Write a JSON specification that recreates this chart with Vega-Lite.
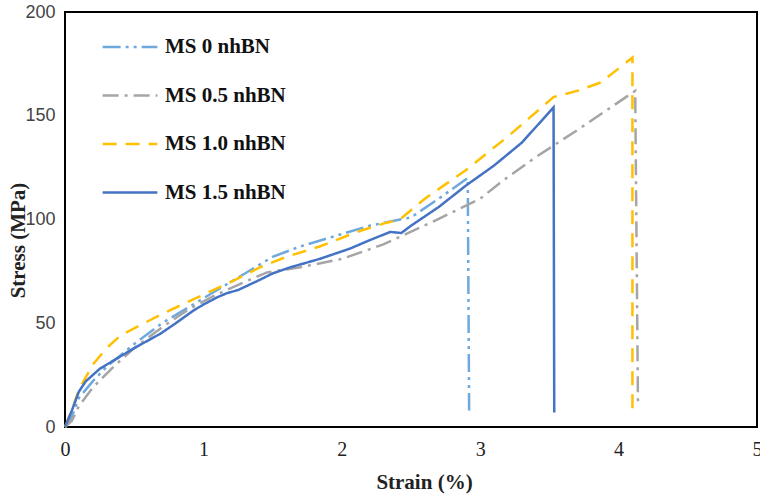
{
  "$schema": "https://vega.github.io/schema/vega-lite/v6.json",
  "width": 692,
  "height": 415,
  "autosize": "none",
  "padding": {"left": 65, "top": 12, "right": 3, "bottom": 68},
  "background": "white",
  "config": {
    "view": {"stroke": "black", "strokeWidth": 2},
    "axis": {"grid": false, "domain": false, "ticks": false}
  },
  "data": {"values": [
    {"s":"MS 0 nhBN","i":0,"x":0,"y":0},
    {"s":"MS 0 nhBN","i":1,"x":0.05,"y":5},
    {"s":"MS 0 nhBN","i":2,"x":0.1,"y":14},
    {"s":"MS 0 nhBN","i":3,"x":0.2,"y":22},
    {"s":"MS 0 nhBN","i":4,"x":0.3,"y":29},
    {"s":"MS 0 nhBN","i":5,"x":0.5,"y":40},
    {"s":"MS 0 nhBN","i":6,"x":0.7,"y":50},
    {"s":"MS 0 nhBN","i":7,"x":0.9,"y":58},
    {"s":"MS 0 nhBN","i":8,"x":1.1,"y":66},
    {"s":"MS 0 nhBN","i":9,"x":1.3,"y":74},
    {"s":"MS 0 nhBN","i":10,"x":1.5,"y":82},
    {"s":"MS 0 nhBN","i":11,"x":1.7,"y":87},
    {"s":"MS 0 nhBN","i":12,"x":2.0,"y":93},
    {"s":"MS 0 nhBN","i":13,"x":2.2,"y":97},
    {"s":"MS 0 nhBN","i":14,"x":2.35,"y":99},
    {"s":"MS 0 nhBN","i":15,"x":2.5,"y":101},
    {"s":"MS 0 nhBN","i":16,"x":2.7,"y":110},
    {"s":"MS 0 nhBN","i":17,"x":2.91,"y":120},
    {"s":"MS 0 nhBN","i":18,"x":2.92,"y":8},
    {"s":"MS 0.5 nhBN","i":0,"x":0,"y":0},
    {"s":"MS 0.5 nhBN","i":1,"x":0.05,"y":3},
    {"s":"MS 0.5 nhBN","i":2,"x":0.1,"y":10},
    {"s":"MS 0.5 nhBN","i":3,"x":0.2,"y":19},
    {"s":"MS 0.5 nhBN","i":4,"x":0.35,"y":29},
    {"s":"MS 0.5 nhBN","i":5,"x":0.5,"y":38},
    {"s":"MS 0.5 nhBN","i":6,"x":0.7,"y":48},
    {"s":"MS 0.5 nhBN","i":7,"x":0.9,"y":57},
    {"s":"MS 0.5 nhBN","i":8,"x":1.1,"y":64},
    {"s":"MS 0.5 nhBN","i":9,"x":1.3,"y":70},
    {"s":"MS 0.5 nhBN","i":10,"x":1.46,"y":74.5},
    {"s":"MS 0.5 nhBN","i":11,"x":1.7,"y":77},
    {"s":"MS 0.5 nhBN","i":12,"x":2.0,"y":81},
    {"s":"MS 0.5 nhBN","i":13,"x":2.3,"y":88},
    {"s":"MS 0.5 nhBN","i":14,"x":2.66,"y":99},
    {"s":"MS 0.5 nhBN","i":15,"x":3.0,"y":110},
    {"s":"MS 0.5 nhBN","i":16,"x":3.14,"y":117.5},
    {"s":"MS 0.5 nhBN","i":17,"x":3.4,"y":130},
    {"s":"MS 0.5 nhBN","i":18,"x":3.7,"y":143},
    {"s":"MS 0.5 nhBN","i":19,"x":4.12,"y":162},
    {"s":"MS 0.5 nhBN","i":20,"x":4.14,"y":11},
    {"s":"MS 1.0 nhBN","i":0,"x":0,"y":0},
    {"s":"MS 1.0 nhBN","i":1,"x":0.05,"y":8},
    {"s":"MS 1.0 nhBN","i":2,"x":0.1,"y":18},
    {"s":"MS 1.0 nhBN","i":3,"x":0.2,"y":30},
    {"s":"MS 1.0 nhBN","i":4,"x":0.3,"y":38},
    {"s":"MS 1.0 nhBN","i":5,"x":0.4,"y":44},
    {"s":"MS 1.0 nhBN","i":6,"x":0.54,"y":49},
    {"s":"MS 1.0 nhBN","i":7,"x":0.75,"y":56},
    {"s":"MS 1.0 nhBN","i":8,"x":0.975,"y":63},
    {"s":"MS 1.0 nhBN","i":9,"x":1.2,"y":70},
    {"s":"MS 1.0 nhBN","i":10,"x":1.41,"y":77},
    {"s":"MS 1.0 nhBN","i":11,"x":1.6,"y":82},
    {"s":"MS 1.0 nhBN","i":12,"x":1.84,"y":87},
    {"s":"MS 1.0 nhBN","i":13,"x":2.11,"y":94},
    {"s":"MS 1.0 nhBN","i":14,"x":2.3,"y":98},
    {"s":"MS 1.0 nhBN","i":15,"x":2.42,"y":100},
    {"s":"MS 1.0 nhBN","i":16,"x":2.6,"y":110},
    {"s":"MS 1.0 nhBN","i":17,"x":2.9,"y":124},
    {"s":"MS 1.0 nhBN","i":18,"x":3.2,"y":140},
    {"s":"MS 1.0 nhBN","i":19,"x":3.53,"y":159},
    {"s":"MS 1.0 nhBN","i":20,"x":3.7,"y":162},
    {"s":"MS 1.0 nhBN","i":21,"x":3.87,"y":166},
    {"s":"MS 1.0 nhBN","i":22,"x":4.1,"y":178},
    {"s":"MS 1.0 nhBN","i":23,"x":4.1,"y":7},
    {"s":"MS 1.5 nhBN","i":0,"x":0,"y":0},
    {"s":"MS 1.5 nhBN","i":1,"x":0.05,"y":8},
    {"s":"MS 1.5 nhBN","i":2,"x":0.1,"y":17},
    {"s":"MS 1.5 nhBN","i":3,"x":0.15,"y":22},
    {"s":"MS 1.5 nhBN","i":4,"x":0.25,"y":28},
    {"s":"MS 1.5 nhBN","i":5,"x":0.35,"y":32},
    {"s":"MS 1.5 nhBN","i":6,"x":0.5,"y":38},
    {"s":"MS 1.5 nhBN","i":7,"x":0.69,"y":45},
    {"s":"MS 1.5 nhBN","i":8,"x":0.8,"y":50},
    {"s":"MS 1.5 nhBN","i":9,"x":0.925,"y":56},
    {"s":"MS 1.5 nhBN","i":10,"x":1.0,"y":59},
    {"s":"MS 1.5 nhBN","i":11,"x":1.1,"y":62.5},
    {"s":"MS 1.5 nhBN","i":12,"x":1.17,"y":64.5},
    {"s":"MS 1.5 nhBN","i":13,"x":1.25,"y":66},
    {"s":"MS 1.5 nhBN","i":14,"x":1.41,"y":71},
    {"s":"MS 1.5 nhBN","i":15,"x":1.5,"y":74},
    {"s":"MS 1.5 nhBN","i":16,"x":1.63,"y":77},
    {"s":"MS 1.5 nhBN","i":17,"x":1.84,"y":81},
    {"s":"MS 1.5 nhBN","i":18,"x":2.06,"y":86},
    {"s":"MS 1.5 nhBN","i":19,"x":2.2,"y":90},
    {"s":"MS 1.5 nhBN","i":20,"x":2.35,"y":94},
    {"s":"MS 1.5 nhBN","i":21,"x":2.43,"y":93.5},
    {"s":"MS 1.5 nhBN","i":22,"x":2.5,"y":97},
    {"s":"MS 1.5 nhBN","i":23,"x":2.7,"y":106},
    {"s":"MS 1.5 nhBN","i":24,"x":2.9,"y":116.5},
    {"s":"MS 1.5 nhBN","i":25,"x":3.1,"y":126},
    {"s":"MS 1.5 nhBN","i":26,"x":3.3,"y":137},
    {"s":"MS 1.5 nhBN","i":27,"x":3.53,"y":154},
    {"s":"MS 1.5 nhBN","i":28,"x":3.535,"y":7}
  ]},
  "mark": {"type": "line", "strokeWidth": 2.5, "interpolate": "linear"},
  "encoding": {
    "x": {"field": "x", "type": "quantitative",
      "scale": {"domain": [0, 5], "nice": false, "zero": false},
      "axis": {"values": [0,1,2,3,4,5], "title": "Strain (%)", "labelFont": "Liberation Serif", "labelFontSize": 20, "labelColor": "#222", "labelPadding": 12,
        "titleFont": "Liberation Serif", "titleFontWeight": "bold", "titleFontSize": 21, "titleColor": "#222", "titleX": 359, "titleY": 55, "titleBaseline": "middle", "labelFlush": false}},
    "y": {"field": "y", "type": "quantitative",
      "scale": {"domain": [0, 200], "nice": false},
      "axis": {"values": [0,50,100,150,200], "title": "Stress  (MPa)", "labelFont": "Liberation Sans", "labelFontSize": 18, "labelColor": "#444", "labelPadding": 10,
        "titleFont": "Liberation Serif", "titleFontWeight": "bold", "titleFontSize": 21, "titleColor": "#222", "titleX": -47, "titleY": 228, "titleBaseline": "middle", "labelFlush": false}},
    "color": {"field": "s", "type": "nominal",
      "scale": {"domain": ["MS 0 nhBN","MS 0.5 nhBN","MS 1.0 nhBN","MS 1.5 nhBN"], "range": ["#6fa8dc","#a5a5a5","#ffc000","#4472c4"]},
      "legend": {"orient": "none", "legendX": 36, "legendY": 6, "title": null, "symbolType": "stroke", "symbolSize": 3000, "symbolStrokeWidth": 2.5,
        "labelFont": "Liberation Serif", "labelFontWeight": "bold", "labelFontSize": 21, "labelColor": "#111", "rowPadding": 9.5, "labelOffset": 6}},
    "strokeDash": {"field": "s", "type": "nominal",
      "scale": {"domain": ["MS 0 nhBN","MS 0.5 nhBN","MS 1.0 nhBN","MS 1.5 nhBN"], "range": [[18,5,3,5,3,5],[16,6,3,6],[14,9],[1,0]]},
      "legend": null},
    "order": {"field": "i", "type": "quantitative"}
  }
}
